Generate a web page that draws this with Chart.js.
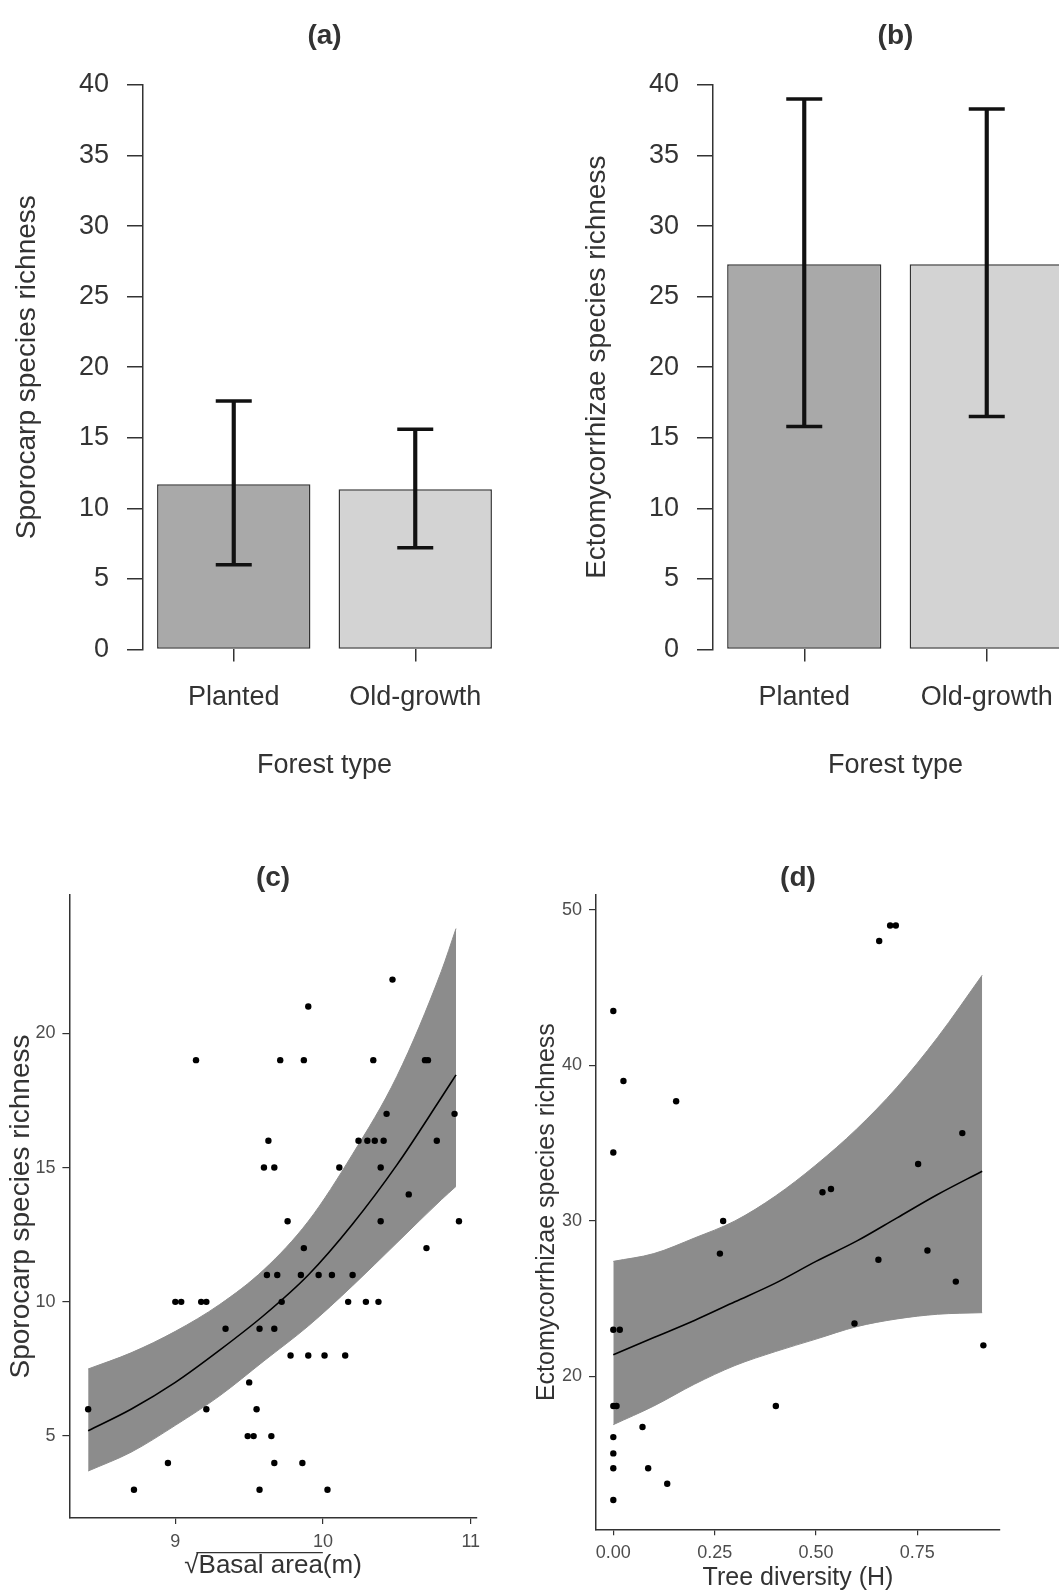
<!DOCTYPE html>
<html>
<head>
<meta charset="utf-8">
<title>Species richness by forest type</title>
<script src="https://cdn.jsdelivr.net/npm/chart.js@4.4.1/dist/chart.umd.min.js"></script>
<style>
  html, body { margin: 0; padding: 0; background: #fff; overflow: hidden; }
  body { width: 1059px; height: 1593px; position: relative; }
  canvas { position: absolute; }
</style>
</head>
<body>
<canvas id="chartA" width="530" height="790" style="left:0;top:0;width:530px;height:790px"></canvas>
<canvas id="chartB" width="570" height="790" style="left:530px;top:0;width:570px;height:790px"></canvas>
<canvas id="chartC" width="530" height="793" style="left:0;top:800px;width:530px;height:793px"></canvas>
<canvas id="chartD" width="529" height="793" style="left:530px;top:800px;width:529px;height:793px"></canvas>
<script>
// (a) + (b) bar panels
const forestTypes = ['Planted', 'Old-growth'];
const sporoMean = [11.7, 11.35];
const sporoLow = [6.0, 7.2];
const sporoHigh = [17.6, 15.6];
const ectoMean = [27.3, 27.3];
const ectoLow = [15.8, 16.5];
const ectoHigh = [39.0, 38.3];
const barTicks = [0, 5, 10, 15, 20, 25, 30, 35, 40];

// (c) sporocarp richness vs sqrt basal area
const basalX = [10.47, 9.90, 9.14, 9.71, 9.87, 10.34, 10.69, 10.71, 10.43, 10.89,
  9.63, 10.24, 10.30, 10.35, 10.41, 10.77, 9.60, 9.67, 10.11, 10.39, 10.58,
  9.76, 10.39, 10.92, 9.87, 10.70, 9.62, 9.69, 9.85, 9.97, 10.06, 10.20,
  9.00, 9.04, 9.175, 9.21, 9.72, 10.17, 10.29, 10.375, 9.34, 9.57, 9.67,
  9.78, 9.90, 10.01, 10.15, 9.50, 8.41, 9.21, 9.55, 9.49, 9.53, 9.65,
  8.95, 9.67, 9.86, 8.72, 9.57, 10.03];
const basalY = [22, 21, 19, 19, 19, 19, 19, 19, 17, 17,
  16, 16, 16, 16, 16, 16, 15, 15, 15, 15, 14,
  13, 13, 13, 12, 12, 11, 11, 11, 11, 11, 11,
  10, 10, 10, 10, 10, 10, 10, 10, 9, 9, 9,
  8, 8, 8, 8, 7, 6, 6, 6, 5, 5, 5,
  4, 4, 4, 3, 3, 3];
const basalFitX = [8.41, 8.7, 9.0, 9.3, 9.6, 9.9, 10.2, 10.5, 10.8, 10.9];
const basalFit = [5.2, 6.0, 7.0, 8.2, 9.5, 11.0, 12.9, 15.1, 17.6, 18.45];
const basalFitLo = [3.7, 4.4, 5.4, 6.5, 7.8, 9.1, 10.6, 12.2, 13.8, 14.3];
const basalFitHi = [7.5, 8.1, 8.9, 9.9, 11.2, 13.0, 15.5, 18.4, 22.3, 23.9];
const basalTicksX = [9, 10, 11];
const basalTicksY = [5, 10, 15, 20];

// (d) ectomycorrhizae richness vs tree diversity
const diversityX = [0.000, 0.025, 0.155, 0.000, 0.656, 0.683, 0.697, 0.861, 0.752, 0.516,
  0.537, 0.271, 0.263, 0.775, 0.654, 0.845, 0.595, 0.913, 0.000, 0.016,
  0.000, 0.008, 0.401, 0.072, 0.000, 0.000, 0.000, 0.086, 0.133, 0.000];
const diversityY = [43.5, 39.0, 37.7, 34.4, 48.0, 49.0, 49.0, 35.65, 33.66, 31.84,
  32.05, 30.0, 27.9, 28.1, 27.5, 26.1, 23.4, 22.0, 23.0, 23.0,
  18.1, 18.1, 18.1, 16.75, 16.1, 15.05, 14.1, 14.1, 13.1, 12.05];
const divFitX = [0, 0.1, 0.2, 0.3, 0.4, 0.5, 0.6, 0.7, 0.8, 0.91];
const divFit = [21.4, 22.5, 23.6, 24.8, 26.0, 27.4, 28.7, 30.2, 31.7, 33.2];
const divFitLo = [16.9, 18.1, 19.5, 20.7, 21.6, 22.4, 23.2, 23.7, 24.0, 24.1];
const divFitHi = [27.4, 27.9, 28.9, 30.0, 31.6, 33.6, 35.9, 38.6, 41.8, 45.8];
const divTicksX = [0, 0.25, 0.5, 0.75];
const divTicksY = [20, 30, 40, 50];

Chart.defaults.font.family = "'Liberation Sans', Arial, sans-serif";
Chart.defaults.color = '#333';
Chart.defaults.animation = false;

const fixedTicks = list => scale => { scale.ticks = list.map(v => ({ value: v })); };

// vinculum over "Basal area", measured from the x axis title text
const radicalBar = {
  id: 'radicalBar',
  afterDraw(chart) {
    const s = chart.scales.x;
    const t = s.options.title;
    const font = Chart.helpers.toFont(t.font);
    const ctx = chart.ctx;
    ctx.save();
    ctx.font = font.string;
    ctx.textBaseline = 'middle';
    const text = t.text;
    const under = text.slice(0, text.indexOf('('));
    const full = ctx.measureText(text).width;
    const x0 = (s.left + s.right) / 2 - full / 2;
    const rad = ctx.measureText('\u221A');
    const cy = s.bottom - t.padding.bottom - font.lineHeight / 2;
    const y = cy - rad.actualBoundingBoxAscent + 0.5;
    ctx.strokeStyle = '#333';
    ctx.lineWidth = 1.4;
    ctx.beginPath();
    ctx.moveTo(x0 + rad.width * 0.85, y);
    ctx.lineTo(x0 + ctx.measureText(under).width, y);
    ctx.stroke();
    ctx.restore();
  }
};

function barPanel(id, panelTitle, yTitle, means, lows, highs, lay) {
  return new Chart(document.getElementById(id), {
    type: 'bar',
    data: {
      labels: forestTypes,
      datasets: [
        { type: 'line', data: highs, showLine: false, pointStyle: 'line', pointRadius: 18,
          pointBorderWidth: 3.5, pointBorderColor: '#111', order: 1 },
        { type: 'line', data: lows, showLine: false, pointStyle: 'line', pointRadius: 18,
          pointBorderWidth: 3.5, pointBorderColor: '#111', order: 1 },
        { data: lows.map((v, i) => [v, highs[i]]), backgroundColor: '#111', barThickness: 3.5,
          grouped: false, order: 2 },
        { data: means, backgroundColor: ['#a9a9a9', '#d3d3d3'], borderColor: '#333', borderWidth: 1.5,
          borderSkipped: false, barPercentage: 0.845, categoryPercentage: 1, order: 3 }
      ]
    },
    options: {
      responsive: false,
      layout: { padding: { left: 0, right: lay.padRight, top: 0, bottom: 8.4 } },
      plugins: {
        legend: { display: false },
        tooltip: { enabled: false },
        title: { display: true, text: panelTitle, fullSize: false, color: '#333',
          font: { size: 28, weight: 'bold' }, padding: { top: 19, bottom: 32.4 } }
      },
      scales: {
        x: {
          offset: true,
          border: { display: false },
          grid: { offset: false, drawOnChartArea: false, drawTicks: true, tickLength: 12, color: '#333', lineWidth: 1.5 },
          ticks: { padding: 20, font: { size: 27 }, color: '#333' },
          title: { display: true, text: 'Forest type', font: { size: 27 }, color: '#333', padding: { top: 0, bottom: 0 } },
          afterFit: s => { s.height = 132.2; }
        },
        y: {
          min: 0, max: 40,
          afterBuildTicks: fixedTicks(barTicks),
          border: { display: true, color: '#333', width: 1.5 },
          grid: { drawOnChartArea: false, drawTicks: true, tickLength: 16, color: '#333', lineWidth: 1.5 },
          ticks: { padding: 18, font: { size: 27 }, color: '#333' },
          title: { display: true, text: yTitle, font: { size: 28 }, color: '#333',
            padding: { top: lay.yTitlePad, bottom: 0 } },
          afterFit: s => { s.width = lay.yWidth; }
        }
      }
    }
  });
}

function scatterPanel(id, panelTitle, p) {
  const pts = (xs, ys) => xs.map((x, i) => ({ x: x, y: ys[i] }));
  return new Chart(document.getElementById(id), {
    type: 'scatter',
    data: {
      datasets: [
        { type: 'line', data: pts(p.fitX, p.fitHi), borderColor: '#8c8c8c', borderWidth: 1, pointRadius: 0,
          fill: '+1', backgroundColor: '#8c8c8c', cubicInterpolationMode: 'monotone', order: 4 },
        { type: 'line', data: pts(p.fitX, p.fitLo), borderColor: '#8c8c8c', borderWidth: 1, pointRadius: 0,
          fill: false, cubicInterpolationMode: 'monotone', order: 3 },
        { type: 'line', data: pts(p.fitX, p.fit), borderColor: '#000', borderWidth: 1.6, pointRadius: 0,
          fill: false, cubicInterpolationMode: 'monotone', order: 2 },
        { data: pts(p.xs, p.ys), pointRadius: 3.2, backgroundColor: '#000', borderWidth: 0, order: 1 }
      ]
    },
    options: {
      responsive: false,
      layout: { padding: { left: 0, right: p.padRight, top: 0, bottom: p.padBottom } },
      plugins: {
        legend: { display: false },
        tooltip: { enabled: false },
        title: { display: true, text: panelTitle, fullSize: false, color: '#333',
          font: { size: 28, weight: 'bold' }, padding: { top: 61.4, bottom: 0 } }
      },
      scales: {
        x: {
          type: 'linear', min: p.xMin, max: p.xMax,
          afterBuildTicks: fixedTicks(p.ticksX),
          border: { display: true, color: '#333', width: 1.5 },
          grid: { drawOnChartArea: false, drawTicks: true, tickLength: 6, color: '#333', lineWidth: 1.2 },
          ticks: { padding: p.xTickPad, font: { size: 18 }, color: '#4d4d4d', callback: p.xFormat },
          title: { display: true, text: p.xTitle, font: { size: p.xTitleSize }, color: '#333', padding: { top: 0, bottom: 0 } },
          afterFit: s => { s.height = p.xHeight; }
        },
        y: {
          type: 'linear', min: p.yMin, max: p.yMax,
          afterBuildTicks: fixedTicks(p.ticksY),
          border: { display: true, color: '#333', width: 1.5 },
          grid: { drawOnChartArea: false, drawTicks: true, tickLength: 7, color: '#333', lineWidth: 1.2 },
          ticks: { padding: 7, font: { size: 18 }, color: '#4d4d4d' },
          title: { display: true, text: p.yTitle, font: { size: p.yTitleSize }, color: '#333',
            padding: { top: p.yTitlePad, bottom: 0 } },
          afterFit: s => { s.width = p.yWidth; }
        }
      }
    },
    plugins: p.extraPlugins || []
  });
}

barPanel('chartA', '(a)', 'Sporocarp species richness', sporoMean, sporoLow, sporoHigh,
  { yWidth: 143, padRight: 24, yTitlePad: 10.2 });
barPanel('chartB', '(b)', 'Ectomycorrhizae species richness', ectoMean, ectoLow, ectoHigh,
  { yWidth: 183, padRight: 22, yTitlePad: 50.8 });

scatterPanel('chartC', '(c)', {
  xs: basalX, ys: basalY, fitX: basalFitX, fit: basalFit, fitLo: basalFitLo, fitHi: basalFitHi,
  ticksX: basalTicksX, ticksY: basalTicksY,
  xMin: 8.283, xMax: 11.04, yMin: 1.95, yMax: 25.15,
  xTitle: '\u221ABasal area(m)', xTitleSize: 26,
  yTitle: 'Sporocarp species richness', yTitleSize: 28, yTitlePad: 4.7,
  xFormat: v => String(v),
  yWidth: 69.4, padRight: 53.3, padBottom: 11.4, xHeight: 63.6, xTickPad: 7,
  extraPlugins: [radicalBar]
});

scatterPanel('chartD', '(d)', {
  xs: diversityX, ys: diversityY, fitX: divFitX, fit: divFit, fitLo: divFitLo, fitHi: divFitHi,
  ticksX: divTicksX, ticksY: divTicksY,
  xMin: -0.0427, xMax: 0.954, yMin: 10.17, yMax: 50.96,
  xTitle: 'Tree diversity (H)', xTitleSize: 25,
  yTitle: 'Ectomycorrhizae species richness', yTitleSize: 25, yTitlePad: 2,
  xFormat: v => v.toFixed(2),
  yWidth: 66, padRight: 59, padBottom: 0, xHeight: 63.7, xTickPad: 7
});
</script>
</body>
</html>
